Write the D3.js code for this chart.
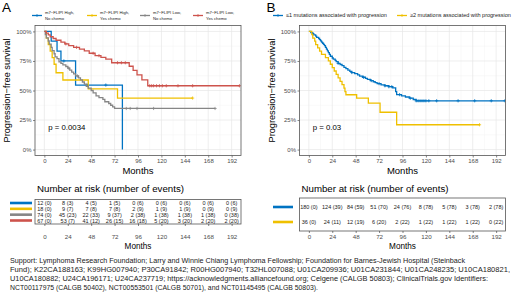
<!DOCTYPE html>
<html>
<head>
<meta charset="utf-8">
<script src="https://cdn.jsdelivr.net/npm/d3@7"></script>
<style>
  body { margin: 0; background: #fff; }
  svg { display: block; font-family: "Liberation Sans", Arial, Helvetica, sans-serif; }
</style>
</head>
<body>
<svg id="fig" width="520" height="296"></svg>
<script>
// ---- values ----
const months = [0, 24, 48, 72, 96, 120, 144, 168, 192];
const survTicks = [0, 0.25, 0.5, 0.75, 1];

// panel A : m7-FLIPI x chemo, steps as [month, survival]
const aLabels = ["m7\u2212FLIPI High,\nNo chemo", "m7\u2212FLIPI High,\nYes chemo", "m7\u2212FLIPI Low,\nNo chemo", "m7\u2212FLIPI Low,\nYes chemo"];
const aHighNo = [[0, 1], [7, 0.917], [13, 0.833], [17, 0.75], [32, 0.546], [80, 0]];
const aHighYes = [[0, 1], [2, 0.944], [4, 0.889], [6, 0.833], [8, 0.778], [10, 0.722], [12, 0.65], [19, 0.589], [45, 0.513], [75, 0.436]];
const aLowNo = [[0, 1], [1, 0.973], [2, 0.946], [4, 0.919], [5, 0.892], [7, 0.865], [8, 0.838], [10, 0.811], [11, 0.784], [13, 0.77],
  [15, 0.743], [17, 0.73], [19, 0.716], [22, 0.703], [24, 0.689], [26, 0.672], [28, 0.656], [30, 0.64], [32, 0.623], [35, 0.606],
  [37, 0.59], [39, 0.572], [41, 0.554], [43, 0.536], [45, 0.52], [48, 0.5], [50, 0.48], [53, 0.455], [56, 0.44], [60, 0.425],
  [62, 0.405], [66, 0.39], [68, 0.375], [70, 0.362], [72, 0.348]];
const aLowYes = [[0, 1], [2, 0.985], [4, 0.97], [6, 0.955], [9, 0.94], [12, 0.925], [17, 0.91], [21, 0.895], [25, 0.88], [30, 0.865],
  [36, 0.85], [41, 0.835], [46, 0.815], [52, 0.795], [58, 0.78], [63, 0.765], [69, 0.735], [87, 0.705], [91, 0.67], [95, 0.632],
  [100, 0.59], [106, 0.54]];
const aEnds = [80, 152, 175, 200];
const aCensor = [
  [20, 44, 63],
  [152],
  [25, 34, 84, 88, 95, 112, 175],
  [22, 33, 50, 56, 75, 79, 83, 108, 110, 112, 115, 118, 121, 125, 137, 152, 200]
];
const aAtRisk = [
  [12, 8, 4, 1, 0, 0, 0, 0, 0],
  [18, 9, 7, 7, 2, 1, 1, 0, 0],
  [74, 45, 22, 9, 2, 1, 1, 1, 0],
  [67, 53, 41, 26, 16, 5, 3, 2, 2]
];
const aEvents = [
  [0, 3, 5, 5, 6, 6, 6, 6, 6],
  [0, 7, 8, 8, 9, 9, 9, 9, 9],
  [0, 23, 33, 37, 38, 38, 38, 38, 38],
  [0, 7, 12, 15, 18, 20, 20, 20, 20]
];

// panel B : mutations associated with progression
const bLabels = ["\u22641 mutations associated with progression", "\u22652 mutations associated with progression"];
const bLow = [[0, 1], [2, 0.99], [4, 0.98], [5, 0.97], [7, 0.96], [8, 0.95], [10, 0.94], [11, 0.93], [12, 0.92], [13, 0.91],
  [14, 0.9], [15, 0.89], [16, 0.88], [17, 0.865], [18, 0.85], [19, 0.835], [20, 0.82], [21, 0.805], [22, 0.79], [24, 0.775],
  [25, 0.765], [27, 0.755], [28, 0.745], [30, 0.73], [32, 0.72], [34, 0.71], [36, 0.695], [38, 0.685], [40, 0.672], [42, 0.662],
  [44, 0.652], [47, 0.642], [50, 0.632], [52, 0.622], [55, 0.612], [58, 0.602], [60, 0.594], [63, 0.584], [66, 0.574], [68, 0.566],
  [70, 0.558], [74, 0.548], [78, 0.54], [82, 0.532], [86, 0.522], [89, 0.49], [90, 0.465], [95, 0.455], [99, 0.445], [103, 0.435],
  [107, 0.424], [110, 0.413]];
const bHigh = [[0, 1], [3, 0.972], [4, 0.944], [6, 0.917], [7, 0.889], [9, 0.861], [11, 0.833], [13, 0.806], [17, 0.778], [20, 0.75],
  [22, 0.722], [24, 0.694], [26, 0.665], [28, 0.636], [30, 0.607], [32, 0.578], [34, 0.549], [36, 0.52], [37, 0.49], [38, 0.464],
  [49, 0.436], [61, 0.394], [73, 0.316], [90, 0.21]];
const bEnds = [201, 175];
const bCensor = [
  [30, 44, 56, 64, 72, 78, 82, 85, 93, 104, 110, 112, 114, 116, 118, 120, 123, 131, 153, 170, 187, 201],
  [175]
];
const bAtRisk = [
  [180, 124, 84, 51, 24, 8, 5, 3, 2],
  [36, 24, 12, 6, 2, 1, 1, 1, 0]
];
const bEvents = [
  [0, 39, 59, 70, 76, 78, 78, 78, 78],
  [0, 11, 19, 20, 22, 22, 22, 22, 22]
];

const supportLines = [
  "Support: Lymphoma Research Foundation; Larry and Winnie Chiang Lymphoma Fellowship; Foundation for Barnes-Jewish Hospital (Steinback",
  "Fund); K22CA188163; K99HG007940; P30CA91842; R00HG007940; T32HL007088; U01CA209936; U01CA231844; U01CA248235; U10CA180821,",
  "U10CA180882; U24CA196171; U24CA237719; https://acknowledgments.alliancefound.org; Celgene (CALGB 50803); ClinicalTrials.gov Identifiers:",
  "NCT00117975 (CALGB 50402), NCT00553501 (CALGB 50701), and NCT01145495 (CALGB 50803)."
];

// jco palette
const aColors = ["#0073C2", "#EFC000", "#868686", "#CD534C"];
const bColors = ["#0073C2", "#EFC000"];

const svg = d3.select("#fig");

function survAt(steps, t) {
  let s = steps[0][1];
  steps.forEach(p => { if (p[0] <= t) s = p[1]; });
  return s;
}

function drawPanel(cfg) {
  const g = svg.append("g");
  const x = d3.scaleLinear().domain([-9.6, 201.6]).range([cfg.x0, cfg.x1]);
  const y = d3.scaleLinear().domain([-0.05, 1.05]).range([155.5, 25.5]);

  // panel letter
  g.append("text").attr("x", cfg.x0 - 33).attr("y", 12).attr("font-size", 13.5).text(cfg.letter);

  // grid
  const grid = g.append("g");
  d3.range(12, 200, 24).forEach(m => grid.append("line").attr("x1", x(m)).attr("x2", x(m))
    .attr("y1", 25.5).attr("y2", 155.5).attr("stroke", "#f3f3f3").attr("stroke-width", 0.5));
  [0.125, 0.375, 0.625, 0.875].forEach(v => grid.append("line").attr("x1", cfg.x0).attr("x2", cfg.x1)
    .attr("y1", y(v)).attr("y2", y(v)).attr("stroke", "#f3f3f3").attr("stroke-width", 0.5));
  months.forEach(m => grid.append("line").attr("x1", x(m)).attr("x2", x(m))
    .attr("y1", 25.5).attr("y2", 155.5).attr("stroke", "#e6e6e6").attr("stroke-width", 0.7));
  survTicks.forEach(v => grid.append("line").attr("x1", cfg.x0).attr("x2", cfg.x1)
    .attr("y1", y(v)).attr("y2", y(v)).attr("stroke", "#e6e6e6").attr("stroke-width", 0.7));

  // axes
  const ya = g.append("g").attr("transform", `translate(${cfg.x0},0)`)
    .call(d3.axisLeft(y).tickValues(survTicks).tickFormat(d3.format(".0%")).tickSize(2).tickPadding(1.5));
  const xa = g.append("g").attr("transform", "translate(0,155.5)")
    .call(d3.axisBottom(x).tickValues(months).tickSize(2).tickPadding(1.5));
  [ya, xa].forEach(a => {
    a.select(".domain").remove();
    a.selectAll("line").attr("stroke", "#333").attr("stroke-width", 0.6);
    a.selectAll("text").attr("font-size", 6).attr("fill", "#4d4d4d").attr("font-family", null);
  });

  g.append("text").attr("transform", `translate(${cfg.x0 - 25},90.5) rotate(-90)`)
    .attr("text-anchor", "middle").attr("font-size", 9.2).text("Progression\u2212free survival");
  g.append("text").attr("x", (x(0) + x(192)) / 2).attr("y", 173.5).attr("text-anchor", "middle")
    .attr("font-size", 9.5).text("Months");

  // curves
  const clipId = "clip" + cfg.letter;
  g.append("clipPath").attr("id", clipId).append("rect")
    .attr("x", cfg.x0).attr("y", 25.5).attr("width", cfg.x1 - cfg.x0).attr("height", 130);
  const cg = g.append("g").attr("clip-path", `url(#${clipId})`);
  const line = d3.line().x(d => x(d[0])).y(d => y(d[1])).curve(d3.curveStepAfter);
  cfg.series.forEach((steps, i) => {
    const pts = steps.concat([[cfg.ends[i], steps[steps.length - 1][1]]]);
    cg.append("path").attr("d", line(pts)).attr("fill", "none")
      .attr("stroke", cfg.colors[i]).attr("stroke-width", 1.3);
    cfg.censor[i].forEach(t => {
      const cx = x(t), cy = y(survAt(steps, t));
      cg.append("path").attr("d", `M${cx - 1.6},${cy}h3.2M${cx},${cy - 1.6}v3.2`)
        .attr("stroke", cfg.colors[i]).attr("stroke-width", 0.8);
    });
  });

  // panel border
  g.append("rect").attr("x", cfg.x0).attr("y", 25.5).attr("width", cfg.x1 - cfg.x0).attr("height", 130)
    .attr("fill", "none").attr("stroke", "#555").attr("stroke-width", 0.8);

  // p value
  g.append("text").attr("x", x(4)).attr("y", 129.5).attr("font-size", 7.8).text(cfg.pval);

  // legend
  cfg.labels.forEach((lab, i) => {
    const lx = cfg.legendX[i];
    const ly = 15.5;
    g.append("line").attr("x1", lx).attr("x2", lx + 10).attr("y1", ly).attr("y2", ly)
      .attr("stroke", cfg.colors[i]).attr("stroke-width", 1.3);
    g.append("path").attr("d", `M${lx + 3.6},${ly}h2.8M${lx + 5},${ly - 1.4}v2.8`)
      .attr("stroke", cfg.colors[i]).attr("stroke-width", 0.8);
    const parts = lab.split("\n");
    const t = g.append("text").attr("x", lx + 13).attr("font-size", cfg.legendFont).attr("fill", "#222");
    parts.forEach((p, k) => {
      t.append("tspan").attr("x", lx + 13)
        .attr("y", ly + cfg.legendFont * 0.35 + (k - (parts.length - 1) / 2) * cfg.legendFont * 1.25).text(p);
    });
  });

  // risk table
  g.append("text").attr("x", cfg.x0 + 2).attr("y", 191.5).attr("font-size", 9.7).text("Number at risk (number of events)");
  const ry = d3.scalePoint().domain(d3.range(cfg.atRisk.length)).range([cfg.tTop, cfg.tBottom]).padding(0.6);
  g.append("rect").attr("x", cfg.x0).attr("y", cfg.tTop).attr("width", cfg.x1 - cfg.x0).attr("height", cfg.tBottom - cfg.tTop)
    .attr("fill", "none").attr("stroke", "#555").attr("stroke-width", 0.8);
  cfg.atRisk.forEach((row, i) => {
    row.forEach((n, j) => {
      g.append("text").attr("x", x(months[j])).attr("y", ry(i) + 2).attr("text-anchor", "middle")
        .attr("font-size", 5.5).attr("fill", "#1a1a1a").text(`${n} (${cfg.events[i][j]})`);
    });
    g.append("line").attr("x1", cfg.swatch[0]).attr("x2", cfg.swatch[1]).attr("y1", ry(i)).attr("y2", ry(i))
      .attr("stroke", cfg.colors[i]).attr("stroke-width", 2.6);
  });
  const ra = g.append("g").attr("transform", `translate(0,${cfg.tBottom})`)
    .call(d3.axisBottom(x).tickValues(months).tickSize(2).tickPadding(233 - cfg.tBottom));
  ra.select(".domain").remove();
  ra.selectAll("line").attr("stroke", "#333").attr("stroke-width", 0.6);
  ra.selectAll("text").attr("font-size", 6.2).attr("fill", "#4d4d4d").attr("font-family", null);
  g.append("text").attr("x", (x(0) + x(192)) / 2).attr("y", 249).attr("text-anchor", "middle")
    .attr("font-size", 8.2).text("Months");
}

drawPanel({
  letter: "A", x0: 35, x1: 241, series: [aHighNo, aHighYes, aLowNo, aLowYes], ends: aEnds, censor: aCensor,
  colors: aColors, labels: aLabels, legendX: [32, 87, 140, 193], legendFont: 4.2, pval: "p = 0.0034",
  atRisk: aAtRisk, events: aEvents, tTop: 199.5, tBottom: 224, swatch: [10, 32]
});
drawPanel({
  letter: "B", x0: 299.5, x1: 505.5, series: [bLow, bHigh], ends: bEnds, censor: bCensor,
  colors: bColors, labels: bLabels, legendX: [273, 397], legendFont: 5.5, pval: "p = 0.03",
  atRisk: bAtRisk, events: bEvents, tTop: 198, tBottom: 231, swatch: [273, 293]
});

// funding note, widths matched to the reference lines
const noteWidths = [455, 500, 478, 308];
const note = svg.append("g");
supportLines.forEach((s, i) => {
  note.append("text").attr("x", 10).attr("y", 262.5 + i * 9.1).attr("font-size", 7.5).attr("fill", "#222")
    .attr("textLength", noteWidths[i]).attr("lengthAdjust", "spacingAndGlyphs").text(s);
});
</script>
</body>
</html>
